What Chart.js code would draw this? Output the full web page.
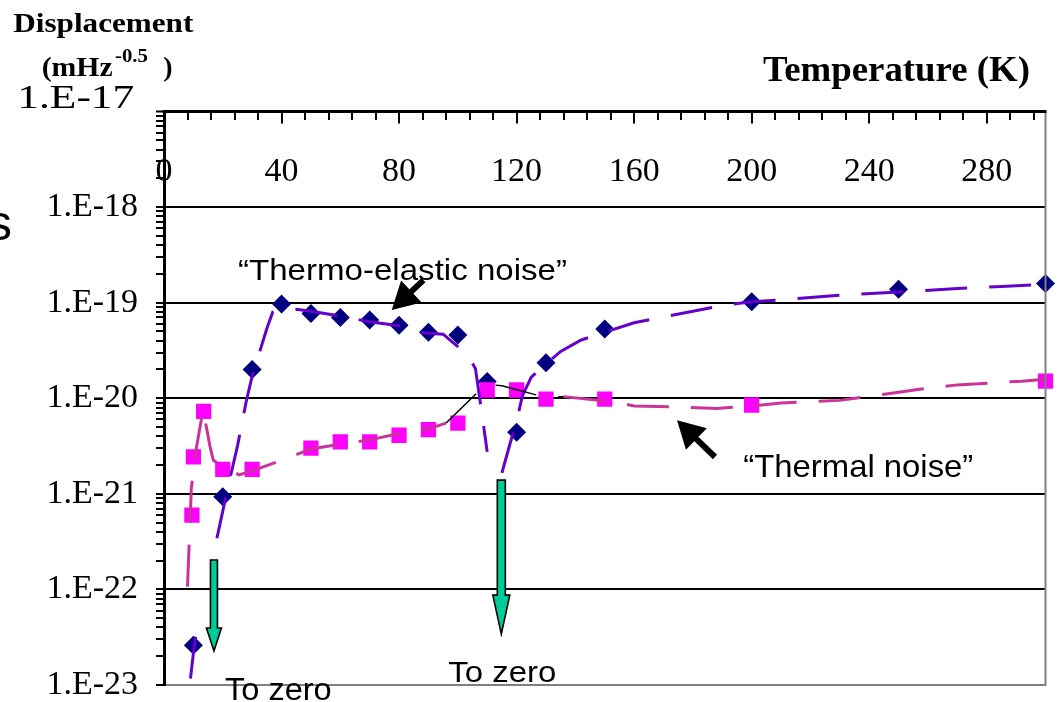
<!DOCTYPE html>
<html>
<head>
<meta charset="utf-8">
<title>Displacement noise vs temperature</title>
<script src="https://cdn.jsdelivr.net/npm/chart.js@4.4.1/dist/chart.umd.min.js"></script>
<style>
  html, body { margin: 0; padding: 0; background: #fff; overflow: hidden; }
  canvas { display: block; }
</style>
</head>
<body>
<canvas id="chart" width="1057" height="702"></canvas>
<script>
// ---- computed points (markers) ----
const teTemps  = [10, 20, 30, 40, 50, 60, 70, 80, 90, 100, 110, 120, 130, 150, 200, 250, 300];
const teValues = [2.6e-23, 9.3e-22, 2.0e-20, 9.7e-20, 7.7e-20, 7.0e-20, 6.6e-20, 5.8e-20, 4.9e-20,
                  4.6e-20, 1.5e-20, 4.4e-21, 2.35e-20, 5.3e-20, 1.02e-19, 1.38e-19, 1.59e-19];

const thTemps  = [9.5, 10, 13.5, 20, 30, 50, 60, 70, 80, 90, 100, 110, 120, 130, 150, 200, 300];
const thValues = [6.0e-22, 2.44e-21, 7.3e-21, 1.8e-21, 1.8e-21, 3.0e-21, 3.5e-21, 3.5e-21, 4.1e-21,
                  4.7e-21, 5.5e-21, 1.22e-20, 1.22e-20, 9.8e-21, 9.8e-21, 8.5e-21, 1.51e-20];

// ---- model curves (null where the amplitude passes through zero) ----
const teCurveTemps  = [9, 10, 11.3, 14, 18, 20, 22, 25, 28, 30, 33, 35, 37, 40, 45, 50, 60, 70, 80, 86,
                       90, 95, 100, 104, 106, 108, 110, 112, 115, 118, 120, 122, 125, 130, 135, 142, 150,
                       160, 170, 180, 190, 200, 215, 230, 250, 270, 285, 300];
const teCurveValues = [1.17e-23, 2.14e-23, 4.27e-23, null, 3.43e-22, 6.6e-22, 1.26e-21, 3.16e-21, 9.3e-21,
                       1.70e-20, 3.39e-20, 5.37e-20, 7.94e-20, 8.13e-20, 8.51e-20, 8.13e-20, 7.24e-20,
                       6.31e-20, 5.75e-20, 4.90e-20, 4.79e-20, 4.68e-20, 3.47e-20, 2.63e-20, 2.04e-20,
                       7.6e-21, 2.75e-21, null, 1.66e-21, 3.55e-21, 5.75e-21, 1.07e-20, 1.66e-20, 2.29e-20,
                       3.09e-20, 4.07e-20, 4.90e-20, 6.17e-20, 7.08e-20, 8.13e-20, 9.33e-20, 1.02e-19,
                       1.10e-19, 1.20e-19, 1.29e-19, 1.41e-19, 1.48e-19, 1.55e-19];

const thCurveTemps  = [8, 9.3, 11, 13.3, 15.7, 16.8, 20, 25.5, 30, 40, 50, 60, 70, 80, 90, 96, 108, 112,
                       115, 130, 136, 154, 160, 175, 188, 200, 210, 230, 247, 256, 270, 292, 300];
const thCurveValues = [1.07e-22, 1.15e-21, 3.0e-21, 7.6e-21, 3.09e-21, 2.24e-21, 1.95e-21, 1.58e-21,
                       1.74e-21, 2.24e-21, 2.95e-21, 3.31e-21, 3.67e-21, 4.27e-21, 4.79e-21, 5.50e-21,
                       1.26e-20, 1.38e-20, 1.35e-20, 1.02e-20, 1.04e-20, 9.1e-21, 8.3e-21, 8.1e-21,
                       7.8e-21, 8.3e-21, 8.9e-21, 9.5e-21, 1.12e-20, 1.23e-20, 1.38e-20, 1.51e-20, 1.58e-20];

// ---- axis ticks ----
const xTickValues = [0, 40, 80, 120, 160, 200, 240, 280];
const xTickLabels = ['0', '40', '80', '120', '160', '200', '240', '280'];
const xMinorStep = 8;
const yDecades = [1e-23, 1e-22, 1e-21, 1e-20, 1e-19, 1e-18, 1e-17];
const yDecadeLabels = ['1.E-23', '1.E-22', '1.E-21', '1.E-20', '1.E-19', '1.E-18', '1.E-17'];

// ---- fonts ----
const SERIF = "'Times New Roman', 'Liberation Serif', serif";
const SANS = "Arial, 'Liberation Sans', sans-serif";

// log tick positions: 1..9 within every decade, plus the top decade
const yTickValues = [];
for (let i = 0; i < yDecades.length - 1; i++) {
  for (let m = 1; m <= 9; m++) yTickValues.push(m * yDecades[i]);
}
yTickValues.push(yDecades[yDecades.length - 1]);

function decadeIndex(v) {
  return yDecades.findIndex(d => Math.abs(v / d - 1) < 1e-9);
}

const pairs = (xs, ys) => xs.map((x, i) => ({ x, y: ys[i] }));

// annotation arrows, anchored in data coordinates
const pointerArrows = [
  { from: [88.3, 1.72e-19], to: [77.5, 8.37e-20] },
  { from: [187.5, 2.43e-21], to: [174.6, 5.9e-21] }
];
const zeroArrows = [
  { t: 17.0, from: 2.03e-22, to: 2.27e-23, shaft: 7, head: 15, headLen: 23 },
  { t: 114.8, from: 1.39e-21, to: 3.41e-23, shaft: 8, head: 17, headLen: 39 }
];

// free text placed on the page
const notes = [
  { text: '\u201CThermo-elastic noise\u201D', x: 238, y: 279.5, font: '29.5px ' + SANS, width: 329 },
  { text: '\u201CThermal noise\u201D', x: 743.3, y: 476.7, font: '31.5px ' + SANS, width: 230 },
  { text: 'To zero', x: 225, y: 700, font: '31px ' + SANS, width: 106.7 },
  { text: 'To zero', x: 448.3, y: 681.7, font: '30px ' + SANS, width: 108 },
  { text: 'Displacement', x: 13.3, y: 31.7, font: 'bold 28px ' + SERIF, width: 180 },
  { text: '(mHz', x: 41.7, y: 76, font: 'bold 28px ' + SERIF, width: 71 },
  { text: '-0.5', x: 115, y: 61.7, font: 'bold 18px ' + SERIF, width: 33 },
  { text: ')', x: 163.3, y: 76, font: 'bold 28px ' + SERIF, width: 0 },
  { text: 'Temperature (K)', x: 763, y: 81, font: 'bold 36px ' + SERIF, width: 267 },
  { text: yDecadeLabels[6], x: 17.3, y: 108.3, font: '34px ' + SERIF, width: 117 }
];

function drawText(ctx, n) {
  ctx.save();
  ctx.font = n.font;
  ctx.fillStyle = '#000';
  ctx.textAlign = 'left';
  ctx.textBaseline = 'alphabetic';
  const w = ctx.measureText(n.text).width;
  const s = n.width ? n.width / w : 1;
  ctx.translate(n.x, n.y);
  ctx.scale(s, 1);
  ctx.fillText(n.text, 0, 0);
  ctx.restore();
}

function drawPointer(ctx, x0, y0, x1, y1) {
  const dx = x1 - x0, dy = y1 - y0, len = Math.hypot(dx, dy);
  const ux = dx / len, uy = dy / len, px = -uy, py = ux;
  const headLen = 27, headW = 15;
  const bx = x1 - ux * headLen, by = y1 - uy * headLen;
  ctx.save();
  ctx.strokeStyle = '#000';
  ctx.fillStyle = '#000';
  ctx.lineWidth = 6;
  ctx.beginPath();
  ctx.moveTo(x0, y0);
  ctx.lineTo(bx + ux * 2, by + uy * 2);
  ctx.stroke();
  ctx.beginPath();
  ctx.moveTo(x1, y1);
  ctx.lineTo(bx + px * headW, by + py * headW);
  ctx.lineTo(bx - px * headW, by - py * headW);
  ctx.closePath();
  ctx.fill();
  ctx.restore();
}

function drawBlockArrow(ctx, x, yTop, yTip, shaft, head, headLen) {
  const yBase = yTip - headLen;
  ctx.save();
  ctx.fillStyle = '#00CC99';
  ctx.strokeStyle = '#000';
  ctx.lineWidth = 1.6;
  ctx.lineJoin = 'miter';
  ctx.beginPath();
  ctx.moveTo(x - shaft / 2, yTop);
  ctx.lineTo(x + shaft / 2, yTop);
  ctx.lineTo(x + shaft / 2, yBase);
  ctx.lineTo(x + head / 2, yBase);
  ctx.lineTo(x, yTip);
  ctx.lineTo(x - head / 2, yBase);
  ctx.lineTo(x - shaft / 2, yBase);
  ctx.closePath();
  ctx.fill();
  ctx.stroke();
  ctx.restore();
}

const decor = {
  id: 'decor',
  beforeDraw(chart) {
    // temperature labels sit inside the plot, under the top axis
    const { ctx, scales: { x } } = chart;
    ctx.save();
    ctx.fillStyle = '#000';
    ctx.font = '34px ' + SERIF;
    ctx.textAlign = 'center';
    ctx.textBaseline = 'alphabetic';
    xTickValues.forEach((v, i) => ctx.fillText(xTickLabels[i], x.getPixelForValue(v), 181));
    ctx.restore();
  },
  afterDraw(chart) {
    const { ctx, chartArea: a, scales: { x, y } } = chart;
    ctx.save();
    // right frame edge
    ctx.strokeStyle = '#808080';
    ctx.lineWidth = 2;
    ctx.beginPath();
    ctx.moveTo(a.right, a.top);
    ctx.lineTo(a.right, a.bottom + 1);
    ctx.stroke();
    // top temperature axis with inward ticks
    ctx.strokeStyle = '#000';
    ctx.lineWidth = 3;
    ctx.beginPath();
    ctx.moveTo(a.left - 1.5, a.top);
    ctx.lineTo(a.right + 1, a.top);
    ctx.stroke();
    ctx.lineWidth = 2;
    for (let v = 0; v <= x.max; v += xMinorStep) {
      const px = Math.round(x.getPixelForValue(v));
      const major = v % 40 === 0;
      ctx.beginPath();
      ctx.moveTo(px, a.top);
      ctx.lineTo(px, a.top + (major ? 12 : 8.5));
      ctx.stroke();
    }
    ctx.restore();

    pointerArrows.forEach(p => drawPointer(ctx,
      x.getPixelForValue(p.from[0]), y.getPixelForValue(p.from[1]),
      x.getPixelForValue(p.to[0]), y.getPixelForValue(p.to[1])));

    zeroArrows.forEach(z => drawBlockArrow(ctx, x.getPixelForValue(z.t),
      y.getPixelForValue(z.from), y.getPixelForValue(z.to), z.shaft, z.head, z.headLen));

    notes.forEach(n => drawText(ctx, n));

    // clipped letter at the far left edge
    ctx.save();
    ctx.font = '50px ' + SANS;
    ctx.fillStyle = '#000';
    ctx.textAlign = 'right';
    ctx.textBaseline = 'alphabetic';
    ctx.fillText('s', 12, 240);
    ctx.restore();
  }
};

const inBlackPart = c => thCurveTemps[c.p0DataIndex] >= 96 && thCurveTemps[c.p1DataIndex] <= 136;

new Chart(document.getElementById('chart'), {
  type: 'line',
  data: {
    datasets: [
      {
        label: 'Thermal noise curve',
        data: pairs(thCurveTemps, thCurveValues),
        borderColor: '#CC3399',
        borderWidth: 3,
        borderDash: [42, 22],
        borderCapStyle: 'butt',
        pointRadius: 0,
        tension: 0,
        fill: false,
        spanGaps: false,
        segment: {
          borderColor: c => inBlackPart(c) ? '#000000' : undefined,
          borderWidth: c => inBlackPart(c) ? 1.5 : undefined
        }
      },
      {
        label: 'Thermo-elastic noise curve',
        data: pairs(teCurveTemps, teCurveValues),
        borderColor: '#6600CC',
        borderWidth: 3,
        borderDash: [42, 22],
        borderCapStyle: 'butt',
        pointRadius: 0,
        tension: 0,
        fill: false,
        spanGaps: false
      },
      {
        label: 'Thermal noise',
        data: pairs(thTemps, thValues),
        showLine: false,
        pointStyle: 'rect',
        pointRadius: 10.8,
        pointBorderWidth: 0,
        pointBackgroundColor: '#FF00FF',
        pointBorderColor: '#FF00FF',
        clip: 12
      },
      {
        label: 'Thermo-elastic noise',
        data: pairs(teTemps, teValues),
        showLine: false,
        pointStyle: 'rectRot',
        pointRadius: 9.5,
        pointBorderWidth: 0,
        pointBackgroundColor: '#000080',
        pointBorderColor: '#000080',
        clip: 12
      }
    ]
  },
  options: {
    responsive: false,
    devicePixelRatio: 1,
    animation: false,
    events: [],
    layout: { padding: { top: 111.5, bottom: 17, left: 0, right: 11.5 } },
    plugins: { legend: { display: false }, tooltip: { enabled: false } },
    scales: {
      x: { type: 'linear', min: 0, max: 300, display: false },
      y: {
        type: 'logarithmic',
        position: 'left',
        min: 1e-23,
        max: 1e-17,
        afterBuildTicks: s => { s.ticks = yTickValues.map(v => ({ value: v })); },
        afterFit: s => { s.width = 164; s.paddingTop = 0; s.paddingBottom = 0; },
        ticks: {
          autoSkip: false,
          padding: 18,
          color: '#000',
          font: { family: SERIF, size: 34 },
          callback: v => {
            const i = decadeIndex(v);
            return i >= 0 && i < yDecades.length - 1 ? yDecadeLabels[i] : '';
          }
        },
        grid: {
          drawTicks: true,
          tickLength: 8,
          tickColor: '#000',
          tickWidth: 2,
          color: c => {
            const i = c.tick ? decadeIndex(c.tick.value) : -1;
            if (i < 0) return 'rgba(0,0,0,0)';
            return i === 0 ? '#808080' : '#000';
          },
          lineWidth: c => {
            const i = c.tick ? decadeIndex(c.tick.value) : -1;
            if (i < 0) return 0;
            return i === yDecades.length - 1 ? 3 : 2;
          }
        },
        border: { display: true, color: '#000', width: 3 }
      }
    }
  },
  plugins: [decor]
});
</script>
</body>
</html>
